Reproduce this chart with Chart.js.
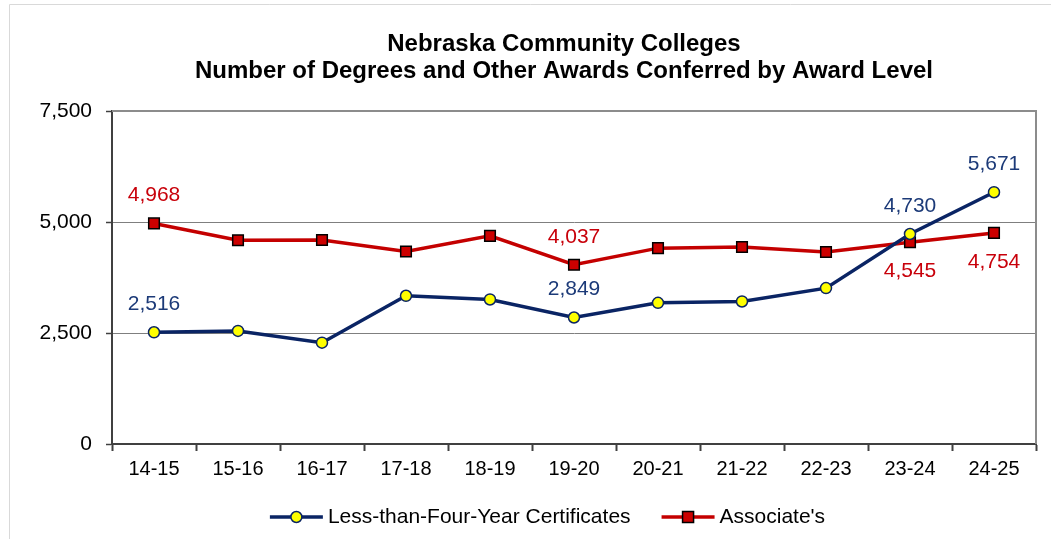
<!DOCTYPE html>
<html>
<head>
<meta charset="utf-8">
<script src="https://cdn.jsdelivr.net/npm/chart.js@4.4.1/dist/chart.umd.min.js"></script>
<style>
html, body { margin: 0; padding: 0; background: #fff; }
#wrap { position: relative; width: 1051px; height: 539px; }
</style>
</head>
<body>
<div id="wrap"><canvas id="chartAwards" width="1051" height="539"></canvas></div>
<script>
// data
const years = ["14-15", "15-16", "16-17", "17-18", "18-19", "19-20", "20-21", "21-22", "22-23", "23-24", "24-25"];
const certificates = [2516, 2547, 2282, 3338, 3255, 2849, 3180, 3210, 3511, 4730, 5671];
const associates = [4968, 4589, 4595, 4334, 4687, 4037, 4411, 4438, 4325, 4545, 4754];
const yTicks = [0, 2500, 5000, 7500];
const seriesNames = ["Less-than-Four-Year Certificates", "Associate's"];
const titleLines = ["Nebraska Community Colleges", "Number of Degrees and Other Awards Conferred by Award Level"];

// which points get a value label, and on which side
const certLabels = { 0: "above", 5: "above", 9: "above", 10: "above" };
const assocLabels = { 0: "above", 5: "above", 9: "below", 10: "below" };

const FONT = 'Arial, "Liberation Sans", sans-serif';
const BLUE = "#0a2464";
const BLUE_TEXT = "#1c3a78";
const RED = "#c40000";
const RED_TEXT = "#c8000a";

function fmt(v) {
    return Number(v).toLocaleString("en-US");
}

const extras = {
    id: "extras",
    beforeDraw(chart) {
        const ctx = chart.ctx;
        ctx.save();
        // outer chart frame (only top/left visible)
        ctx.strokeStyle = "#d9d9d9";
        ctx.lineWidth = 1;
        ctx.beginPath();
        ctx.moveTo(9.5, 539);
        ctx.lineTo(9.5, 4.5);
        ctx.lineTo(1051, 4.5);
        ctx.stroke();

        // title
        ctx.fillStyle = "#000";
        ctx.font = "bold 24px " + FONT;
        ctx.textAlign = "center";
        ctx.textBaseline = "middle";
        ctx.fillText(titleLines[0], 564, 44);
        ctx.fillText(titleLines[1], 564, 71);
        ctx.restore();
    },
    beforeDatasetsDraw(chart) {
        const ctx = chart.ctx;
        const a = chart.chartArea;
        ctx.save();
        ctx.strokeStyle = "#8c8c8c";
        ctx.lineWidth = 2;
        ctx.beginPath();
        ctx.moveTo(a.left, a.top);
        ctx.lineTo(a.right, a.top);
        ctx.lineTo(a.right, a.bottom);
        ctx.stroke();
        ctx.restore();
    },
    afterDatasetsDraw(chart) {
        const ctx = chart.ctx;
        ctx.save();
        ctx.font = "21px " + FONT;
        ctx.textAlign = "center";
        ctx.textBaseline = "middle";
        const spots = [certLabels, assocLabels];
        const colors = [BLUE_TEXT, RED_TEXT];
        chart.data.datasets.forEach((ds, di) => {
            const meta = chart.getDatasetMeta(di);
            Object.keys(spots[di]).forEach(k => {
                const i = Number(k);
                const pt = meta.data[i];
                const off = spots[di][k] === "above" ? -28 : 29;
                ctx.fillStyle = colors[di];
                ctx.fillText(fmt(ds.data[i]), pt.x, pt.y + off);
            });
        });
        ctx.restore();
    },
    afterDraw(chart) {
        // legend: line sample with marker, then name
        const ctx = chart.ctx;
        ctx.save();
        ctx.font = "21px " + FONT;
        ctx.textBaseline = "middle";
        const sample = 53, gapText = 5, gapItem = 31;
        const widths = seriesNames.map(n => sample + gapText + ctx.measureText(n).width);
        const total = widths[0] + gapItem + widths[1];
        let x = 547.5 - total / 2;
        const y = 517;
        chart.data.datasets.forEach((ds, di) => {
            ctx.strokeStyle = ds.borderColor;
            ctx.lineWidth = 3.5;
            ctx.beginPath();
            ctx.moveTo(x, y);
            ctx.lineTo(x + sample, y);
            ctx.stroke();
            const cx = x + sample / 2;
            ctx.fillStyle = ds.pointBackgroundColor;
            ctx.strokeStyle = ds.pointBorderColor;
            ctx.lineWidth = 1.5;
            ctx.beginPath();
            if (ds.pointStyle === "rect") {
                ctx.rect(cx - 5.5, y - 5.5, 11, 11);
            } else {
                ctx.arc(cx, y, 5.5, 0, Math.PI * 2);
            }
            ctx.fill();
            ctx.stroke();
            ctx.fillStyle = "#000";
            ctx.textAlign = "left";
            ctx.fillText(seriesNames[di], x + sample + gapText, y);
            x += widths[di] + gapItem;
        });
        ctx.restore();
    }
};

document.addEventListener("DOMContentLoaded", () => {
    const ctx = document.getElementById("chartAwards");

    new Chart(ctx, {
        type: "line",
        data: {
            labels: years,
            datasets: [{
                label: seriesNames[0],
                data: certificates,
                borderColor: BLUE,
                borderWidth: 3.5,
                pointStyle: "circle",
                pointRadius: 5.5,
                pointHoverRadius: 5.5,
                pointBackgroundColor: "#ffff00",
                pointBorderColor: BLUE,
                pointBorderWidth: 1.5,
                tension: 0
            }, {
                label: seriesNames[1],
                data: associates,
                borderColor: RED,
                borderWidth: 3.5,
                pointStyle: "rect",
                pointRadius: 7.5,
                pointHoverRadius: 7.5,
                pointBackgroundColor: "#cc0000",
                pointBorderColor: "#000",
                pointBorderWidth: 1.5,
                tension: 0
            }]
        },
        options: {
            responsive: false,
            animation: false,
            events: [],
            layout: { padding: { top: 111, right: 15, left: 0, bottom: 0 } },
            plugins: {
                legend: { display: false },
                title: { display: false },
                tooltip: { enabled: false }
            },
            scales: {
                x: {
                    offset: true,
                    afterFit(scale) { scale.height = 95; },
                    grid: {
                        offset: true,
                        drawOnChartArea: false,
                        drawTicks: true,
                        tickLength: 7,
                        tickColor: "#404040",
                        tickWidth: 2
                    },
                    border: { color: "#404040", width: 2 },
                    ticks: {
                        color: "#000",
                        padding: 6,
                        maxRotation: 0,
                        font: { family: FONT, size: 20 }
                    }
                },
                y: {
                    min: yTicks[0],
                    max: yTicks[yTicks.length - 1],
                    afterFit(scale) { scale.width = 112; },
                    afterBuildTicks(scale) { scale.ticks = yTicks.map(v => ({ value: v })); },
                    grid: {
                        color: "#7f7f7f",
                        lineWidth: 1,
                        drawTicks: true,
                        tickLength: 6,
                        tickColor: "#404040",
                        tickWidth: 1.5
                    },
                    border: { color: "#404040", width: 2 },
                    ticks: {
                        color: "#000",
                        padding: 14,
                        font: { family: FONT, size: 21 },
                        callback: v => fmt(v)
                    }
                }
            }
        },
        plugins: [extras]
    });
});
</script>
</body>
</html>
